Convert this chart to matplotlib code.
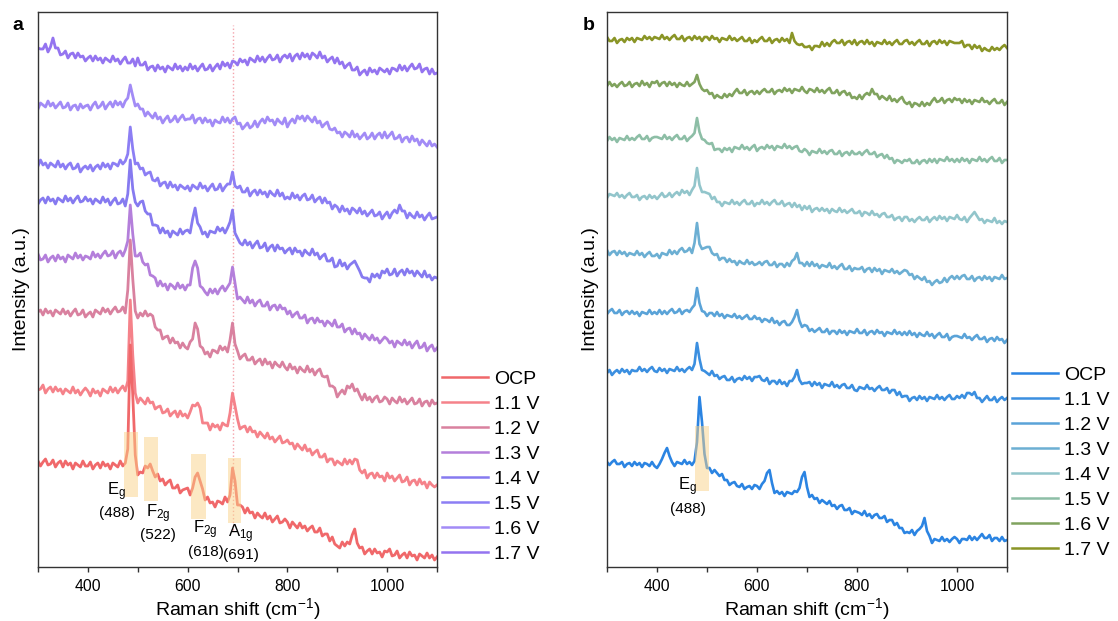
import numpy as np
import matplotlib.pyplot as plt
from matplotlib.lines import Line2D
from matplotlib.patches import Rectangle
from matplotlib.ticker import FixedLocator

plt.rcParams['font.family'] = ['Liberation Sans', 'DejaVu Sans']
plt.rcParams['mathtext.fontset'] = 'custom'
plt.rcParams['mathtext.rm'] = 'Liberation Sans'
plt.rcParams['mathtext.it'] = 'Liberation Sans:italic'
plt.rcParams['mathtext.default'] = 'regular'

# Raman shift grid (cm-1), 5 cm-1 steps
shift = np.arange(300, 1101, 5)
labels = ['OCP', '1.1 V', '1.2 V', '1.3 V', '1.4 V', '1.5 V', '1.6 V', '1.7 V']

# ---------------- panel a : stacked spectra (offset intensity, a.u.) ----------------
a_ocp = [106,101,105,108,102,103,107,100,104,106,100,106,102,104,98,104,102,100,106,101,
         101,105,98,102,104,99,105,101,103,98,104,102,100,106,101,104,118,222,172,112,
         92,95,94,101,99,103,96,90,93,86,88,82,85,87,79,79,82,74,77,78,
         79,72,79,90,94,86,78,67,70,64,65,60,66,65,63,70,65,72,99,86,
         62,62,60,54,59,54,55,49,54,51,49,54,48,51,45,48,51,44,45,48,
         45,39,45,42,39,44,39,41,36,39,41,35,35,39,31,33,33,26,30,23,
         21,19,25,21,25,23,32,38,24,19,20,13,16,18,13,18,14,15,10,16,
         15,18,11,12,16,9,12,14,9,15,11,12,7,13,11,9,14,9,12,7,
         10]
a_v11 = [177,178,182,174,178,180,175,180,176,178,173,178,176,174,180,174,177,172,176,179,
         176,171,178,174,176,171,178,176,174,180,175,179,174,178,181,176,186,267,212,174,
         164,169,166,163,169,164,165,158,160,161,154,155,158,151,154,156,150,156,151,153,
         149,155,162,161,164,159,144,144,144,137,143,140,142,137,144,142,141,154,174,161,
         148,138,140,141,135,140,135,136,130,135,132,129,134,128,130,125,128,131,124,125,
         127,123,124,118,123,120,117,122,116,118,112,115,117,110,110,113,105,108,108,102,
         106,104,102,108,103,107,103,108,107,97,94,97,89,93,94,89,94,90,91,86,
         94,89,91,86,89,92,85,86,90,82,86,87,82,88,83,85,79,85,82,80,
         82]
a_v12 = [255,257,252,258,254,256,251,257,255,253,258,253,256,251,255,258,252,253,257,250,
         253,255,250,257,255,253,259,255,258,253,257,260,255,256,260,254,277,327,288,256,
         249,254,251,256,251,253,251,240,237,237,228,230,231,224,229,224,225,219,224,220,
         218,225,228,244,238,221,219,213,215,210,217,216,214,221,217,220,215,227,244,223,
         216,208,211,213,207,207,210,203,206,208,202,208,203,205,199,205,202,200,205,200,
         197,203,198,200,194,200,197,195,201,195,198,192,196,198,191,190,191,181,181,179,
         170,174,177,173,181,179,183,176,178,172,167,173,167,170,165,169,171,165,166,170,
         168,163,169,166,164,170,165,168,163,166,169,163,164,168,161,165,166,161,167,163,
         164]
a_v13 = [313,307,308,312,305,309,311,306,312,308,310,305,312,310,308,314,309,312,307,311,
         310,308,315,310,313,309,313,316,311,312,316,309,314,316,311,317,326,362,333,311,
         311,314,305,302,303,292,291,289,281,286,281,283,277,283,281,278,284,279,282,277,
         282,282,299,306,299,281,279,275,272,278,274,278,273,278,281,276,280,284,300,284,
         268,270,267,264,270,264,267,261,265,267,261,261,265,257,261,262,257,262,258,259,
         253,256,250,253,255,249,249,252,244,248,249,244,249,245,246,241,246,244,241,247,
         240,240,243,235,238,239,233,238,233,234,228,233,230,227,232,227,229,224,227,230,
         228,224,226,220,226,224,222,227,222,225,219,223,226,219,220,224,216,220,222,216,
         219]
a_v14 = [363,367,369,364,370,366,368,363,369,367,365,371,366,369,364,368,371,365,366,370,
         366,368,363,368,366,364,370,365,368,362,366,369,363,364,368,361,373,407,378,365,
         361,365,366,356,353,353,342,342,341,334,339,334,336,330,336,334,332,338,333,336,
         337,334,348,359,344,340,333,335,330,336,335,334,340,336,339,334,339,345,357,334,
         329,324,322,327,322,325,319,323,326,319,320,324,316,320,322,316,322,318,319,314,
         317,319,313,319,315,316,311,317,314,312,318,312,314,308,311,313,306,306,309,300,
         301,307,301,304,298,302,304,306,301,296,290,289,289,285,293,290,293,289,296,294,
         298,292,293,298,291,295,297,292,298,294,296,291,296,293,290,296,290,292,287,290,
         289]
a_v15 = [401,407,402,404,399,404,402,400,406,400,403,398,402,404,398,399,403,395,399,401,
         398,402,396,400,402,398,404,400,403,398,404,403,401,407,403,406,413,440,418,403,
         404,398,399,392,394,395,387,386,389,381,384,385,379,385,380,382,377,382,380,378,
         381,376,382,380,378,384,379,381,376,380,383,377,378,383,376,380,383,383,395,381,
         379,381,375,375,379,371,375,377,372,377,373,375,370,376,373,371,377,371,374,368,
         370,368,374,369,372,367,371,373,367,368,372,365,368,370,364,369,364,365,358,362,
         360,355,361,356,358,353,359,357,354,359,353,356,351,354,357,351,352,355,348,352,
         355,349,354,357,354,362,356,356,349,354,351,349,355,350,352,347,351,354,348,349,
         350]
a_v16 = [458,464,462,460,466,461,464,459,462,465,459,460,464,457,461,462,457,463,459,461,
         462,457,462,465,459,461,465,458,462,465,460,466,462,465,460,466,469,482,471,461,
         463,458,458,451,455,452,449,454,448,450,444,448,451,445,447,451,445,449,452,447,
         448,448,452,444,448,449,444,449,445,447,441,447,445,444,450,445,449,444,448,450,
         443,444,438,441,444,439,441,446,440,445,448,444,450,446,447,442,448,445,443,449,
         440,445,448,444,451,448,451,446,451,448,445,450,444,446,440,443,445,438,437,439,
         434,435,430,435,433,430,436,430,433,428,431,434,428,430,434,428,432,434,429,435,
         429,432,435,428,429,432,425,429,430,425,431,426,428,422,427,424,421,426,421,423,
         420]
a_v17 = [519,518,518,523,515,520,529,519,519,512,513,516,509,513,514,509,514,510,511,506,
         509,511,506,511,507,509,504,509,507,505,511,506,508,503,507,510,504,504,508,501,
         509,502,502,505,497,500,501,496,502,498,500,495,501,499,497,503,498,501,496,500,
         497,503,498,501,496,500,503,497,498,502,496,500,503,498,505,501,504,499,506,505,
         502,508,505,507,502,509,507,505,511,506,510,505,509,512,507,508,512,505,510,512,
         509,513,506,511,513,508,514,510,513,508,514,512,509,515,509,511,505,508,510,504,
         509,503,505,499,502,504,497,497,500,492,495,497,492,499,495,497,493,499,497,495,
         498,493,499,498,496,502,497,501,496,500,503,498,499,503,495,498,499,493,498,493,
         494]

# ---------------- panel b ----------------
b_ocp = [105,102,105,107,103,103,105,100,103,104,101,105,102,104,100,104,103,101,105,101,
         99,103,108,114,119,111,105,101,105,104,103,107,103,105,102,106,125,170,145,113,
         99,99,94,97,94,91,93,87,87,82,84,85,81,80,83,78,80,81,78,82,
         81,78,83,86,94,97,84,74,76,73,75,71,75,74,73,76,75,79,90,95,
         80,70,72,68,69,64,67,65,63,66,61,62,58,61,62,57,57,59,53,56,
         55,54,52,56,51,53,49,52,53,49,49,51,45,47,47,42,44,39,39,34,
         35,34,37,32,36,38,41,49,36,31,24,28,27,26,30,26,28,25,28,30,
         28,24,28,28,27,31,27,30,27,30,33,29,29,32,26,29,29,26,30,26,
         27]
b_v11 = [194,197,192,195,197,194,198,195,197,193,197,196,196,200,196,198,195,198,200,196,
         195,199,196,198,194,198,197,196,200,196,198,195,198,200,197,203,224,208,197,196,
         194,192,196,191,192,188,190,191,187,187,190,185,188,189,187,191,188,190,186,190,
         190,191,187,186,189,183,186,186,183,187,183,185,181,186,186,190,197,187,183,184,
         184,185,181,185,182,184,179,183,182,181,185,180,182,179,182,183,179,179,182,177,
         176,180,179,178,182,178,179,176,179,181,177,177,179,174,177,177,172,175,170,171,
         171,166,169,170,167,171,168,170,166,170,169,168,172,168,170,167,170,172,168,168,
         171,169,172,169,174,174,172,175,169,169,165,168,171,167,167,170,165,168,170,167,
         169]
b_v12 = [253,256,258,254,254,257,252,255,256,253,256,253,255,251,255,254,253,257,253,255,
         253,257,253,256,253,256,258,254,255,258,253,256,257,255,259,262,279,264,256,255,
         251,254,254,251,255,251,253,249,252,251,250,253,249,251,248,250,252,248,248,251,
         248,249,245,248,247,245,249,244,246,242,245,246,242,242,245,250,257,246,240,242,
         241,236,238,235,237,239,235,235,238,233,236,236,233,237,234,236,232,236,235,234,
         238,234,234,237,232,235,236,233,237,234,235,231,235,234,233,237,233,235,232,235,
         232,236,232,234,230,234,232,231,235,231,233,229,232,234,230,230,233,227,230,231,
         231,230,229,233,229,230,227,230,232,228,228,230,225,228,229,226,230,227,228,224,
         227]
b_v13 = [317,312,315,316,312,316,313,315,311,314,313,312,316,312,314,310,313,315,311,311,
         313,309,314,313,312,317,313,316,313,317,319,315,316,319,314,324,344,323,318,319,
         320,320,314,312,313,307,309,309,305,308,305,306,302,306,304,303,307,303,305,302,
         303,305,302,305,306,302,302,305,300,303,303,300,304,301,306,308,314,304,304,301,
         305,301,305,301,303,299,302,301,300,304,299,301,298,301,303,298,298,301,296,299,
         298,298,300,295,298,299,295,299,296,298,293,297,296,295,298,294,296,293,295,297,
         296,292,293,288,291,289,287,290,285,286,282,285,287,284,285,289,285,289,291,288,
         291,288,291,292,288,288,291,286,289,290,287,291,288,290,286,290,289,288,292,288,
         289]
b_v14 = [369,373,372,371,374,370,372,369,372,374,370,370,372,367,370,371,368,372,369,371,
         368,371,374,370,371,374,370,373,375,372,377,374,376,372,377,381,399,382,375,375,
         374,373,368,370,365,365,361,365,364,363,367,363,365,362,365,367,363,363,366,361,
         364,363,367,363,365,362,365,367,363,363,366,361,363,364,360,364,360,362,357,361,
         358,361,355,358,359,356,359,356,358,354,358,356,355,359,355,357,354,356,358,354,
         354,356,351,355,354,352,356,352,353,350,353,354,350,350,352,347,349,350,346,350,
         350,346,348,345,348,350,347,347,350,345,348,350,347,351,348,350,346,350,349,348,
         352,348,347,350,345,349,352,355,351,347,348,344,347,346,345,349,344,346,343,346,
         345]
b_v15 = [426,430,427,429,425,429,428,427,431,427,429,427,430,432,428,428,431,426,429,430,
         430,429,428,432,428,430,427,430,432,428,428,431,426,429,431,434,449,435,428,427,
         424,423,424,417,418,418,415,419,417,419,415,420,419,418,422,418,420,417,420,422,
         416,419,420,418,422,419,421,417,421,420,419,423,419,421,418,420,421,416,415,418,
         416,412,416,415,414,418,414,416,413,416,417,413,413,416,411,414,415,412,416,413,
         413,415,412,415,417,413,413,415,410,412,413,409,412,408,409,404,407,406,404,407,
         406,408,404,404,407,403,406,407,404,408,405,408,404,408,407,406,410,406,408,405,
         408,405,409,406,408,404,408,407,406,410,406,408,405,408,410,406,406,409,404,407,
         407]
b_v16 = [481,485,481,483,480,483,485,481,482,485,480,483,484,481,486,482,484,480,485,484,
         486,481,484,485,481,485,482,484,480,484,482,481,485,481,483,485,492,483,478,476,
         477,473,474,469,472,470,469,473,470,473,471,475,478,474,474,477,472,475,476,473,
         476,473,476,478,475,475,478,473,476,477,475,479,476,478,474,478,477,476,480,476,
         474,478,477,475,479,475,477,474,477,479,474,474,477,472,475,476,472,474,469,470,
         468,472,468,472,474,472,478,473,473,468,471,469,467,471,466,468,465,468,470,465,
         463,465,460,464,463,461,465,461,464,462,466,469,465,466,469,464,467,468,465,469,
         467,468,464,468,465,467,463,467,466,465,469,465,466,463,466,468,464,464,467,462,
         465]
b_v17 = [530,526,526,529,524,527,528,525,529,527,529,525,529,528,527,531,528,530,527,530,
         529,528,532,528,530,527,530,532,528,528,531,526,529,530,527,531,528,530,526,530,
         530,527,531,528,529,525,529,528,527,531,527,529,526,528,530,526,526,529,524,527,
         525,528,530,526,526,529,524,527,528,525,529,526,528,524,534,526,523,522,523,520,
         520,521,517,521,521,520,525,521,524,521,525,527,524,524,527,522,525,526,523,527,
         522,525,526,523,527,523,525,521,525,524,523,527,523,525,522,525,527,523,523,526,
         527,523,525,522,525,527,523,523,526,521,525,526,523,527,524,526,522,526,525,524,
         524,524,526,520,522,522,518,522,519,521,516,519,517,516,520,517,519,517,520,522,
         519]

a_series = [a_ocp, a_v11, a_v12, a_v13, a_v14, a_v15, a_v16, a_v17]
b_series = [b_ocp, b_v11, b_v12, b_v13, b_v14, b_v15, b_v16, b_v17]
a_colors = ['#f0686a', '#f5828a', '#d9819f', '#b47fdb', '#867af0', '#8c7ef4', '#a28bf6', '#9474f0']
b_colors = ['#2b84e2', '#3b8fe0', '#5aa3d8', '#6cafd3', '#92c5cb', '#8dbea6', '#80a35e', '#8a9526']

# peak assignments: (label, position text, x, y of label, y of position, shade x0, x1, y0, y1)
a_peaks = [(r'E$_g$', '(488)', 458, 75, 54, 472, 500, 70, 135),
           (r'F$_{2g}$', '(522)', 541, 53, 32, 512, 540, 66, 130),
           (r'F$_{2g}$', '(618)', 636, 37, 15, 606, 636, 48, 113),
           (r'A$_{1g}$', '(691)', 707, 33, 12, 680, 708, 44, 109)]
b_peaks = [(r'E$_g$', '(488)', 461, 80, 58, 476, 504, 76, 141)]

W, H = 1118, 621
fig = plt.figure(figsize=(W / 100, H / 100), dpi=100)
ax_a = fig.add_axes([38 / W, 54 / H, 399 / W, 555 / H])
ax_b = fig.add_axes([607 / W, 54 / H, 400 / W, 555 / H])


def draw(ax, series, colors, peaks, legend_top, lw):
    for vals, c in reversed(list(zip(series, colors))):
        ax.plot(shift, vals, color=c, lw=lw)
    for name, pos, tx, ty, py, x0, x1, y0, y1 in peaks:
        ax.add_patch(Rectangle((x0, y0), x1 - x0, y1 - y0, facecolor='#fbd389',
                               alpha=0.5, lw=0, zorder=5))
        ax.text(tx, ty, name, ha='center', va='center', fontsize=12, zorder=6)
        ax.text(tx, py, pos, ha='center', va='center', fontsize=11, zorder=6)
    ax.set_xlim(300, 1100)
    ax.set_ylim(0, 555)
    ax.set_yticks([])
    ax.xaxis.set_major_locator(FixedLocator([400, 600, 800, 1000]))
    ax.xaxis.set_minor_locator(FixedLocator([300, 500, 700, 900, 1100]))
    ax.tick_params(axis='x', which='both', direction='out', length=3.5, width=1,
                   labelsize=11.3, pad=5, color='#333333')
    for s in ax.spines.values():
        s.set_linewidth(1)
        s.set_color('#333333')
    ax.set_xlabel(r'Raman shift (cm$^{-1}$)', fontsize=14, labelpad=2)
    ax.set_ylabel('Intensity (a.u.)', fontsize=14, labelpad=6)
    handles = [Line2D([], [], color=c, lw=1.8) for c in colors]
    ax.legend(handles, labels, loc='upper left', bbox_to_anchor=(1.012, legend_top),
              frameon=False, fontsize=14, handlelength=2.4, handletextpad=0.3,
              labelspacing=0.38, borderaxespad=0, borderpad=0)


draw(ax_a, a_series, a_colors, a_peaks, (567 - 370) / 555, 2.0)
ax_a.vlines(691, 37, 542, colors='#f4a3ab', linestyles=':', lw=1, zorder=1)
draw(ax_b, b_series, b_colors, b_peaks, (567 - 366) / 555, 1.9)

fig.text(18 / W, 1 - 25 / H, 'a', fontsize=14, fontweight='bold', ha='center', va='center')
fig.text(589 / W, 1 - 26 / H, 'b', fontsize=14, fontweight='bold', ha='center', va='center')

fig.savefig('out.png', dpi=100)
